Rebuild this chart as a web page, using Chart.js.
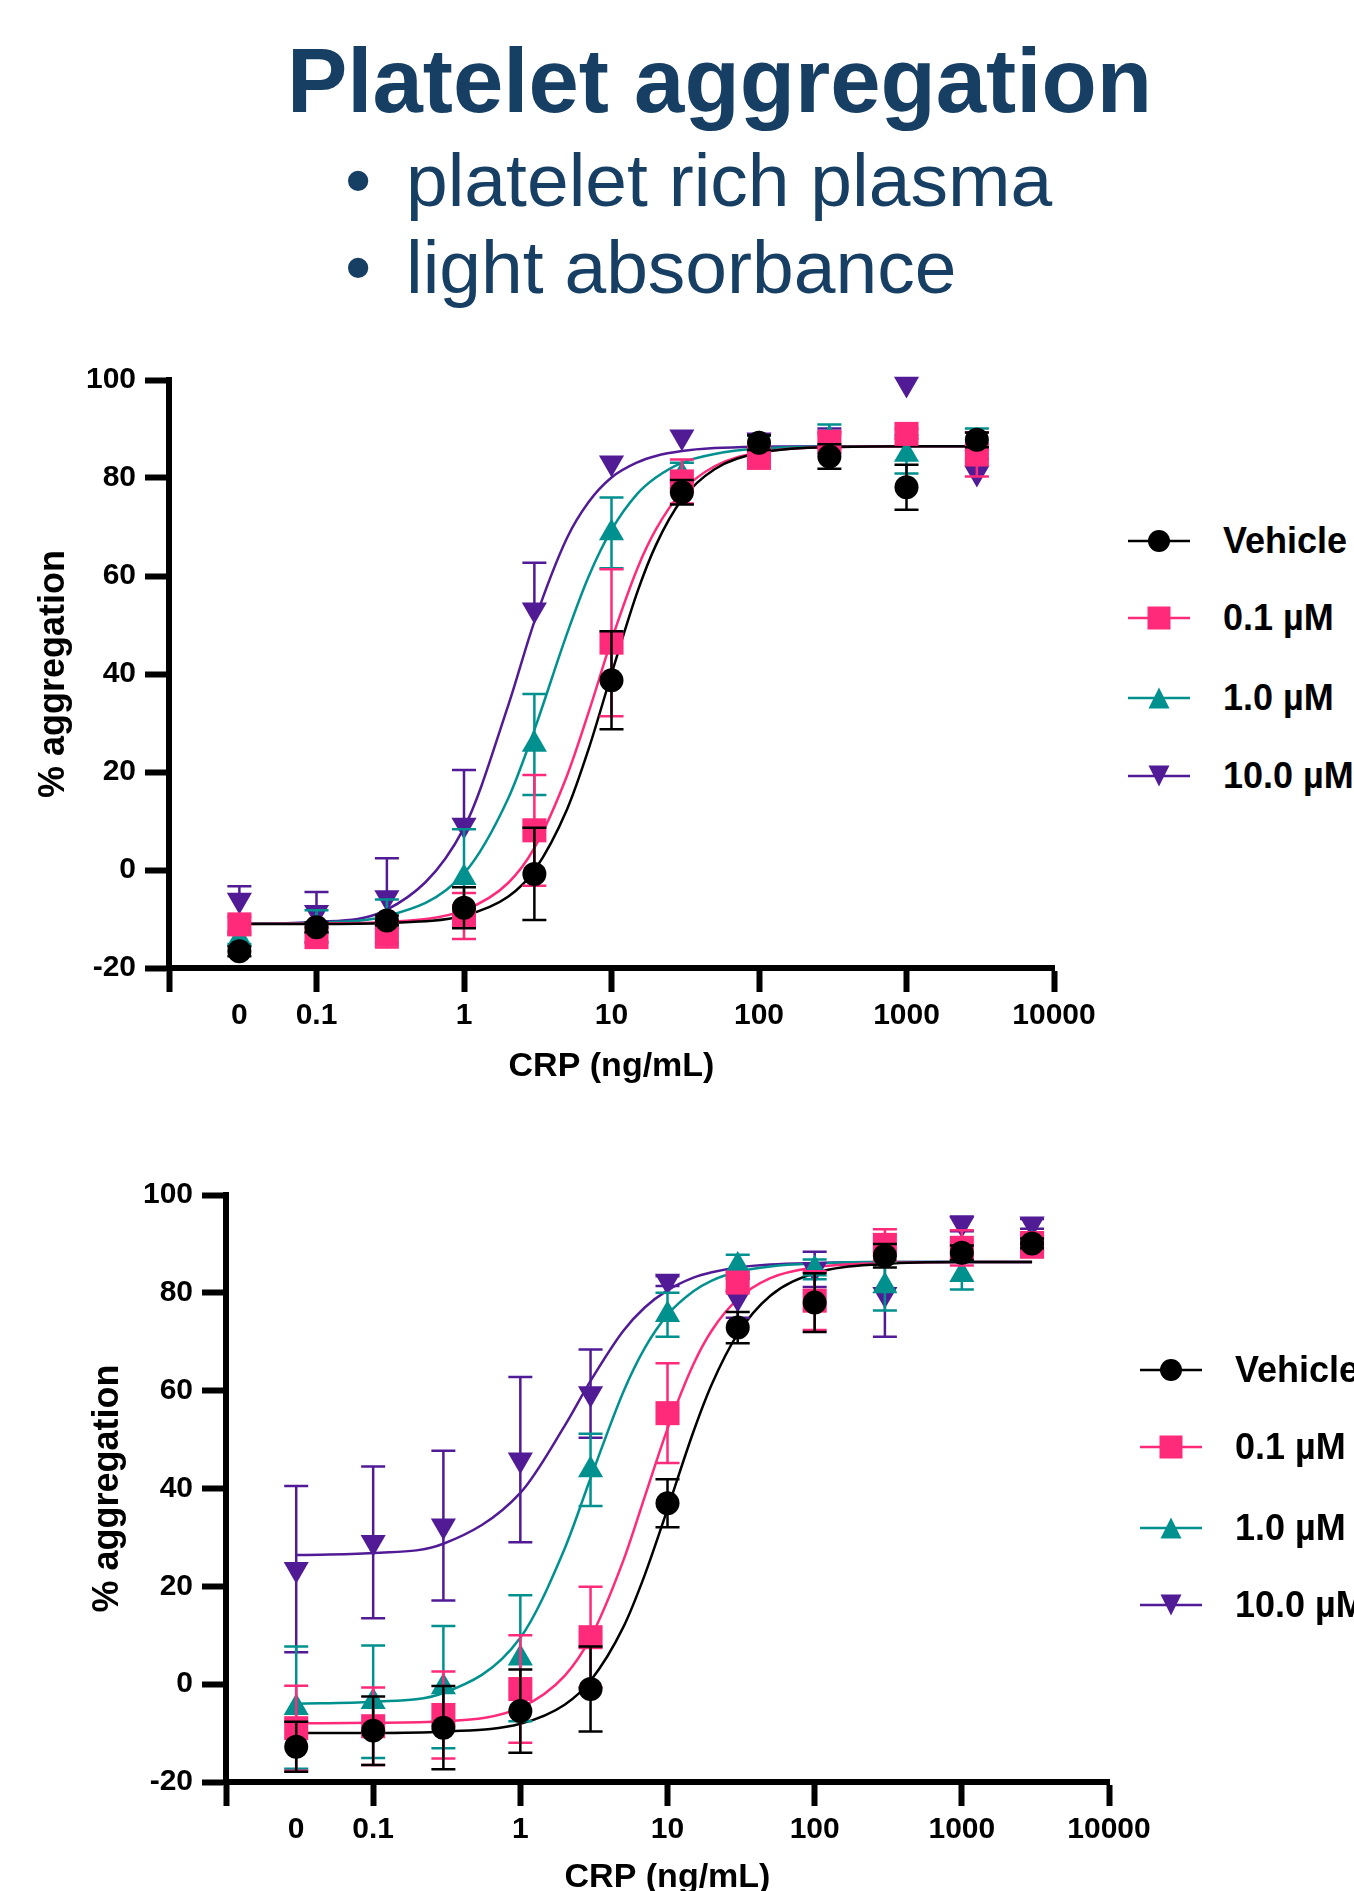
<!DOCTYPE html>
<html lang="en">
<head>
<meta charset="UTF-8">
<title>Platelet aggregation</title>
<script src="https://cdn.jsdelivr.net/npm/chart.js"></script>
<style>
body {
    margin: 0;
    width: 1354px;
    height: 1891px;
    overflow: hidden;
    position: relative;
    background: #fff;
    font-family: "Liberation Sans", Arial, Helvetica, sans-serif;
}
.heading {
    position: absolute;
    color: #173f64;
    white-space: nowrap;
    line-height: 1;
}
#title {
    left: 287px;
    top: 36px;
    font-size: 90.5px;
    font-weight: bold;
}
.bullet { font-size: 75px; }
canvas { position: absolute; left: 0; }
.legendRow {
    position: absolute;
    height: 40px;
    display: flex;
    align-items: center;
    white-space: nowrap;
    font-size: 36px;
    font-weight: bold;
    color: #000;
    z-index: 2;
}
.legendRow svg { margin-right: 33px; }
</style>
</head>
<body>
<div id="title" class="heading">Platelet aggregation</div>
<div class="heading bullet" style="left:345px; top:143px;">•</div>
<div class="heading bullet" style="left:406px; top:143px;">platelet rich plasma</div>
<div class="heading bullet" style="left:345px; top:230px;">•</div>
<div class="heading bullet" style="left:406px; top:230px;">light absorbance</div>

<canvas id="chartTop" width="1120" height="758" style="top:340px;"></canvas>
<canvas id="chartBottom" width="1170" height="757" style="top:1155px;"></canvas>

<script>
// doses (ng/mL); the 0 dose is drawn at ZERO_AT on the log axis, like GraphPad does
const conc = [0, 0.1, 0.3, 1, 3, 10, 30, 100, 300, 1000, 3000];
const ZERO_AT = 0.03;
const fitX = [0.03, 0.1, 0.3, 1, 2, 3, 5, 7, 10, 15, 20, 30, 50, 100, 300, 1000, 3000];

const seriesNames = ['Vehicle', '0.1 µM', '1.0 µM', '10.0 µM'];
const seriesColors = ['#000000', '#ff2a7a', '#00918f', '#521b96'];
const seriesMarkers = ['circle', 'rect', 'triangle', 'triangle'];
const seriesRotation = [0, 0, 0, 180];
const markerRadius = [12, 17, 14.5, 14.5];

const xTickValues = [0.01, 0.03, 0.1, 1, 10, 100, 1000, 10000];
const xTickLabels = ['', '0', '0.1', '1', '10', '100', '1000', '10000'];

// top panel
const vehicleTop = [-16.6, -11.7, -10.3, -7.7, -0.8, 38.7, 77.1, 87.2, 84.4, 78.1, 87.8];
const vehicleTopErr = [1.0, 1.0, 1.0, 4.2, 9.4, 10.0, 2.5, 1.5, 2.5, 4.6, 1.5];
const low01Top = [-11.1, -13.7, -13.2, -9.4, 8.1, 46.4, 79.3, 84.1, 87.4, 89.0, 84.8];
const low01TopErr = [1.5, 1.0, 2.6, 4.7, 11.3, 15.0, 4.5, 1.0, 1.5, 1.0, 4.5];
const mid1Top = [-14.1, -11.5, -10.5, -1.6, 25.6, 68.8, 80.5, 86.8, 88.0, 84.8, 87.0];
const mid1TopErr = [1.0, 3.3, 4.5, 9.9, 10.3, 7.2, 2.6, 1.8, 2.9, 3.9, 3.1];
const high10Top = [-6.1, -8.6, -5.6, 9.2, 53.1, 83.1, 88.4, 87.8, 88.0, 99.2, 81.0];
const high10TopErr = [2.8, 4.1, 8.0, 11.2, 9.6, 0, 0, 0, 2.1, 0, 0];

const vehicleTopFit = [-11.0, -11.0, -10.8, -9.3, -5.4, -0.1, 12.4, 24.7, 40.0, 56.8, 66.3, 75.6, 81.8, 85.1, 86.3, 86.5, 86.5];
const low01TopFit = [-11.0, -10.9, -10.6, -8.2, -2.6, 4.5, 19.3, 32.2, 46.9, 61.6, 69.5, 77.2, 82.4, 85.2, 86.3, 86.5, 86.5];
const mid1TopFit = [-11.0, -10.7, -9.4, -0.7, 14.7, 28.6, 48.3, 59.9, 69.4, 76.8, 80.1, 83.1, 84.9, 86.0, 86.4, 86.5, 86.5];
const high10TopFit = [-11.0, -10.6, -8.1, 8.6, 33.7, 50.7, 67.8, 75.1, 80.1, 83.2, 84.5, 85.5, 86.1, 86.4, 86.5, 86.5, 86.5];

// bottom panel
const vehicleBottom = [-12.8, -9.5, -8.9, -5.5, -1.0, 37.0, 72.9, 78.0, 87.6, 88.2, 90.1];
const vehicleBottomErr = [5.1, 7.0, 8.5, 8.5, 8.7, 4.9, 3.2, 6.0, 2.4, 1.5, 1.0];
const low01Bottom = [-9.0, -8.6, -6.3, -1.0, 9.6, 55.4, 82.1, 78.4, 89.8, 89.2, 89.8];
const low01BottomErr = [8.7, 7.9, 8.9, 11.0, 10.3, 10.2, 1.5, 6.0, 3.2, 3.6, 2.6];
const mid1Bottom = [-4.8, -3.6, -0.6, 5.3, 43.8, 75.5, 85.6, 84.8, 81.4, 83.7, 90.0];
const mid1BottomErr = [12.5, 11.5, 12.5, 12.9, 7.4, 4.5, 2.2, 2.0, 5.0, 3.0, 1.5];
const high10Bottom = [23.5, 29.0, 32.4, 45.9, 59.4, 82.4, 78.9, 84.8, 79.7, 94.1, 94.1];
const high10BottomErr = [17.0, 15.5, 15.3, 16.9, 9.0, 1.0, 4.0, 3.6, 8.7, 1.5, 1.0];

const vehicleBottomFit = [-10.0, -10.0, -9.7, -8.1, -4.2, 0.7, 11.6, 22.3, 35.8, 51.6, 61.3, 71.6, 79.4, 84.0, 85.9, 86.3, 86.3];
const low01BottomFit = [-8.0, -7.9, -7.6, -4.8, 1.7, 9.5, 25.2, 38.3, 52.2, 65.4, 72.3, 78.7, 83.0, 85.2, 86.1, 86.3, 86.3];
const mid1BottomFit = [-4.0, -3.6, -1.8, 9.5, 27.7, 42.1, 59.7, 68.7, 75.5, 80.3, 82.5, 84.3, 85.4, 86.0, 86.3, 86.3, 86.3];
const high10BottomFit = [26.4, 26.8, 28.7, 39.1, 52.8, 62.0, 72.2, 77.0, 80.5, 83.1, 84.2, 85.2, 85.8, 86.1, 86.3, 86.3, 86.3];

Chart.defaults.font.family = '"Liberation Sans", Arial, Helvetica, sans-serif';
Chart.defaults.font.weight = 'bold';
Chart.defaults.color = '#000';

// error bars drawn just before each series' own markers
const errorBars = {
    id: 'errorBars',
    beforeDatasetDraw(chart, args) {
        const ds = chart.data.datasets[args.index];
        if (!ds.errors) return;
        const x = chart.scales.x, y = chart.scales.y, ctx = chart.ctx;
        ctx.save();
        ctx.strokeStyle = ds.backgroundColor;
        ctx.lineWidth = 2.5;
        ds.data.forEach((pt, i) => {
            const e = ds.errors[i];
            if (!e) return;
            const px = x.getPixelForValue(pt.x);
            const top = y.getPixelForValue(pt.y + e);
            const bottom = y.getPixelForValue(ds.upOnly ? pt.y : pt.y - e);
            ctx.beginPath();
            ctx.moveTo(px, top);
            ctx.lineTo(px, bottom);
            ctx.moveTo(px - 12, top);
            ctx.lineTo(px + 12, top);
            if (!ds.upOnly) {
                ctx.moveTo(px - 12, bottom);
                ctx.lineTo(px + 12, bottom);
            }
            ctx.stroke();
        });
        ctx.restore();
    }
};

function makeChart(canvasId, means, errs, fits, upOnly, opts) {
    const datasets = [];
    means.forEach((m, s) => {
        datasets.push({
            label: seriesNames[s],
            data: conc.map((c, i) => ({ x: c === 0 ? ZERO_AT : c, y: m[i] })),
            errors: errs[s],
            upOnly: upOnly[s],
            showLine: false,
            pointStyle: seriesMarkers[s],
            pointRotation: seriesRotation[s],
            pointRadius: markerRadius[s],
            pointBorderWidth: 0,
            backgroundColor: seriesColors[s],
            borderColor: seriesColors[s],
            clip: false
        });
    });
    fits.forEach((f, s) => {
        datasets.push({
            label: seriesNames[s] + ' fit',
            data: fitX.map((c, i) => ({ x: c, y: f[i] })),
            borderColor: seriesColors[s],
            borderWidth: 2.5,
            pointRadius: 0,
            cubicInterpolationMode: 'monotone',
            fill: false,
            clip: false
        });
    });
    return new Chart(document.getElementById(canvasId), {
        type: 'line',
        data: { datasets: datasets },
        plugins: [errorBars],
        options: {
            responsive: false,
            animation: false,
            events: [],
            layout: { padding: { left: 0, top: 40, right: opts.padRight, bottom: 0 } },
            plugins: { legend: { display: false }, tooltip: { enabled: false } },
            scales: {
                x: {
                    type: 'logarithmic',
                    min: 0.01,
                    max: 10000,
                    afterBuildTicks: scale => { scale.ticks = xTickValues.map(v => ({ value: v })); },
                    afterFit: scale => { scale.height = 130; },
                    ticks: {
                        autoSkip: false,
                        maxRotation: 0,
                        padding: 6,
                        font: { size: 30, weight: 'bold' },
                        callback: (v, i) => xTickLabels[i]
                    },
                    grid: {
                        drawOnChartArea: false,
                        tickLength: 24,
                        tickWidth: 6,
                        tickColor: ctx => (ctx.tick && ctx.tick.value === ZERO_AT) ? 'rgba(0,0,0,0)' : '#000'
                    },
                    border: { width: 6, color: '#000' },
                    title: {
                        display: true,
                        text: 'CRP (ng/mL)',
                        font: { size: 34, weight: 'bold' },
                        padding: { top: 0, bottom: opts.xTitlePad }
                    }
                },
                y: {
                    min: -20,
                    max: 100,
                    afterFit: scale => { scale.width = opts.yWidth; },
                    ticks: { stepSize: 20, padding: 9, font: { size: 30, weight: 'bold' } },
                    grid: { drawOnChartArea: false, tickLength: 24, tickWidth: 6, tickColor: '#000' },
                    border: { width: 6, color: '#000' },
                    title: {
                        display: true,
                        text: '% aggregation',
                        font: { size: 36, weight: 'bold' },
                        padding: { top: opts.yTitlePad, bottom: 0 }
                    }
                }
            }
        }
    });
}

makeChart('chartTop',
    [vehicleTop, low01Top, mid1Top, high10Top],
    [vehicleTopErr, low01TopErr, mid1TopErr, high10TopErr],
    [vehicleTopFit, low01TopFit, mid1TopFit, high10TopFit],
    [false, false, false, true],
    { padRight: 66, yWidth: 169, xTitlePad: 10.6, yTitlePad: 32.4 });

makeChart('chartBottom',
    [vehicleBottom, low01Bottom, mid1Bottom, high10Bottom],
    [vehicleBottomErr, low01BottomErr, mid1BottomErr, high10BottomErr],
    [vehicleBottomFit, low01BottomFit, mid1BottomFit, high10BottomFit],
    [false, false, false, false],
    { padRight: 61, yWidth: 226, xTitlePad: 13.6, yTitlePad: 86.4 });

// legends: line with marker, then label
function markerSvg(s) {
    const c = seriesColors[s];
    let shape;
    if (seriesMarkers[s] === 'circle') shape = `<circle cx="31" cy="15" r="11" fill="${c}"/>`;
    else if (seriesMarkers[s] === 'rect') shape = `<rect x="19.5" y="3.5" width="23" height="23" fill="${c}"/>`;
    else if (seriesRotation[s] === 180) shape = `<polygon points="20.5,4.5 41.5,4.5 31,25.5" fill="${c}"/>`;
    else shape = `<polygon points="20.5,25.5 41.5,25.5 31,4.5" fill="${c}"/>`;
    return `<svg width="62" height="30"><line x1="0" y1="15" x2="62" y2="15" stroke="${c}" stroke-width="2.5"/>${shape}</svg>`;
}
function makeLegend(left, rowCenters) {
    rowCenters.forEach((cy, s) => {
        const row = document.createElement('div');
        row.className = 'legendRow';
        row.style.left = left + 'px';
        row.style.top = (cy - 20) + 'px';
        row.innerHTML = markerSvg(s) + '<span>' + seriesNames[s] + '</span>';
        document.body.appendChild(row);
    });
}
makeLegend(1128, [541, 618, 698, 776]);
makeLegend(1140, [1370, 1447, 1528, 1605]);
</script>
</body>
</html>
